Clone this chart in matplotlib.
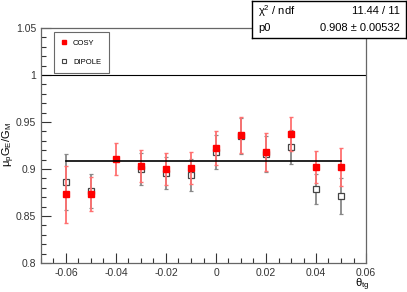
import numpy as np
import matplotlib
matplotlib.use("Agg")
import matplotlib.pyplot as plt
from matplotlib.ticker import MultipleLocator
from matplotlib.lines import Line2D

plt.rcParams['font.family'] = ['Liberation Sans', 'DejaVu Sans']
plt.rcParams['mathtext.default'] = 'regular'

# data
theta_cosy = [-0.06, -0.05, -0.04, -0.03, -0.02, -0.01, 0.0, 0.01, 0.02, 0.03, 0.04, 0.05]
ratio_cosy = [0.873, 0.873, 0.911, 0.903, 0.900, 0.901, 0.922, 0.936, 0.918, 0.937, 0.902, 0.902]
err_cosy = [0.030, 0.018, 0.017, 0.017, 0.017, 0.017, 0.018, 0.019, 0.020, 0.018, 0.017, 0.020]

theta_dip = [-0.06, -0.05, -0.03, -0.02, -0.01, 0.0, 0.01, 0.02, 0.03, 0.04, 0.05]
ratio_dip = [0.886, 0.877, 0.900, 0.896, 0.894, 0.918, 0.935, 0.916, 0.923, 0.879, 0.871]
err_dip = [0.030, 0.018, 0.017, 0.017, 0.017, 0.018, 0.019, 0.019, 0.018, 0.016, 0.019]

fit_p0 = 0.908
fit_range = [-0.06, 0.05]

fig = plt.figure(figsize=(4.07, 2.92), dpi=100)
ax = fig.add_axes([41/407, 1 - 263/292, 325/407, 235/292])

ax.errorbar(theta_dip, ratio_dip, yerr=err_dip, fmt='s', ms=4.5, mfc='white', mec='#444444',
            mew=0.9, ecolor='#888888', elinewidth=1.3, capsize=1.2, zorder=3)
ax.errorbar(theta_cosy, ratio_cosy, yerr=err_cosy, fmt='s', ms=4.5, mfc='red', mec='red',
            ecolor='#ff7070', elinewidth=1.3, capsize=1.2, zorder=4)
ax.plot(fit_range, [fit_p0, fit_p0], color='black', lw=1.2, zorder=5)
ax.axhline(1.0, color='black', lw=0.8)

ax.set_xlim(-0.07, 0.06)
ax.set_ylim(0.8, 1.05)
ax.xaxis.set_minor_locator(MultipleLocator(0.005))
ax.yaxis.set_minor_locator(MultipleLocator(0.01))
ax.set_xticks([-0.06, -0.04, -0.02, 0, 0.02, 0.04, 0.06])
ax.set_xticklabels(['-0.06', '-0.04', '-0.02', '0', '0.02', '0.04', '0.06'])
ax.set_yticks([0.8, 0.85, 0.9, 0.95, 1.0, 1.05])
ax.set_yticklabels(['0.8', '0.85', '0.9', '0.95', '1', '1.05'])
ax.tick_params(which='both', direction='in', top=False, right=False, labelsize=7.5, colors='#333333')
ax.tick_params(which='major', length=7, width=0.8)
ax.tick_params(which='minor', length=3.5, width=0.8)
for s in ax.spines.values():
    s.set_color('#666666')
    s.set_linewidth(0.9)

fig.text(9/407, 1 - 145/292, r'$\mu_{p}G_{E}/G_{M}$', fontsize=8, ha='center', va='center', rotation=90)
fig.text(362/407, 1 - 285/292, r'$\theta_{tg}$', fontsize=8, ha='center', va='center')

handles = [Line2D([], [], ls='none', marker='s', ms=3, mfc='red', mec='red'),
           Line2D([], [], ls='none', marker='s', ms=3, mfc='white', mec='#444444', mew=0.8)]
leg = ax.legend(handles, ['COSY', 'DIPOLE'], loc='upper left', bbox_to_anchor=(0.04, 0.983), fontsize=5.5,
                frameon=True, fancybox=False, edgecolor='#444444', labelspacing=1.5,
                handlelength=0.6, handletextpad=0.9, borderpad=1.0, borderaxespad=0)
leg.get_frame().set_linewidth(0.8)

# stats box
box = fig.add_axes([252/407, 1 - 38/292, 154/407, 37/292])
box.set_xticks([]); box.set_yticks([])
for s in box.spines.values():
    s.set_color('black'); s.set_linewidth(1)
box.text(0.04, 0.74, r'$\chi^{2}$ / ndf', fontsize=8, va='center', ha='left', transform=box.transAxes)
box.text(0.96, 0.74, '11.44 / 11', fontsize=8, va='center', ha='right', transform=box.transAxes)
box.text(0.04, 0.27, 'p0', fontsize=8, va='center', ha='left', transform=box.transAxes)
box.text(0.96, 0.27, '0.908 ± 0.00532', fontsize=8, va='center', ha='right', transform=box.transAxes)

fig.savefig('out.png', dpi=100)
